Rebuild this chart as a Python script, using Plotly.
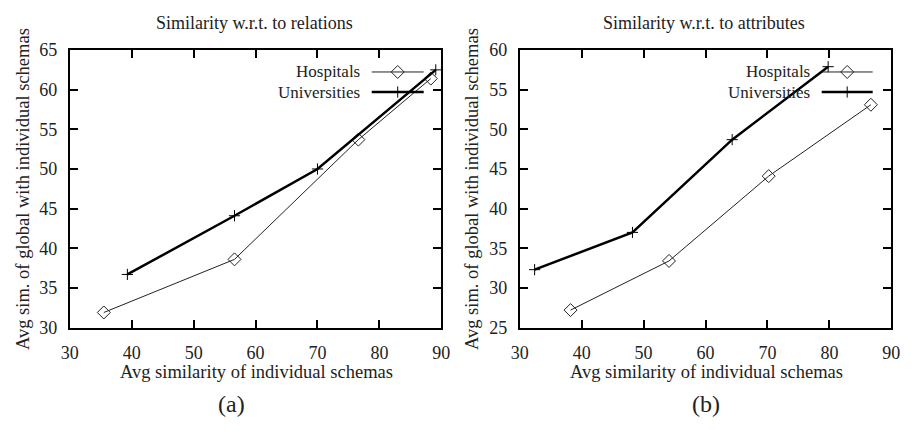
import plotly.graph_objects as go

# ---- data ----
rel_hosp_x = [35.5, 56.6, 76.6, 88.3]
rel_hosp_y = [31.9, 38.6, 53.7, 61.4]
rel_univ_x = [39.3, 56.6, 70.0, 89.1]
rel_univ_y = [36.7, 44.1, 50.0, 62.5]

att_hosp_x = [38.2, 54.1, 70.2, 86.7]
att_hosp_y = [27.2, 33.4, 44.1, 53.1]
att_univ_x = [32.4, 48.2, 64.3, 79.8]
att_univ_y = [32.3, 37.0, 48.7, 57.9]

x_ticks = [30, 40, 50, 60, 70, 80, 90]
rel_y_ticks = [30, 35, 40, 45, 50, 55, 60, 65]
att_y_ticks = [25, 30, 35, 40, 45, 50, 55, 60]

titles = ["Similarity w.r.t. to relations", "Similarity w.r.t. to attributes"]
sub_labels = ["(a)", "(b)"]
series_names = ["Hospitals", "Universities"]
x_title = "Avg similarity of individual schemas"
y_title = "Avg sim. of global with individual schemas"

W, H = 916, 431
FONT = "Liberation Serif"
TXT = "#222222"
HOSP_COLOR = "#222222"
UNIV_COLOR = "#000000"

hosp_line = dict(color=HOSP_COLOR, width=1)
univ_line = dict(color=UNIV_COLOR, width=2.5)
hosp_marker = dict(symbol="diamond-open", size=10, color=HOSP_COLOR, line=dict(width=1, color=HOSP_COLOR))
univ_marker = dict(symbol="cross-thin-open", size=8, color=UNIV_COLOR, line=dict(width=1, color=UNIV_COLOR))

fig = go.Figure()

panels = [
    ("x", "y", rel_hosp_x, rel_hosp_y, rel_univ_x, rel_univ_y),
    ("x2", "y2", att_hosp_x, att_hosp_y, att_univ_x, att_univ_y),
]
for xa, ya, hx, hy, ux, uy in panels:
    fig.add_trace(go.Scatter(x=hx, y=hy, mode="lines+markers", line=hosp_line,
                             marker=hosp_marker, xaxis=xa, yaxis=ya, showlegend=False))
    fig.add_trace(go.Scatter(x=ux, y=uy, mode="lines+markers", line=univ_line,
                             marker=univ_marker, xaxis=xa, yaxis=ya, showlegend=False))

# gnuplot-style key: text right-aligned, sample line to the right (pixel-based helper axis)
key_specs = [  # (text right edge, sample start, sample end, row y)
    (360, 370, 423, [65, 86]),
    (819, 829, 881, [65, 86]),
]
for tx, s0, s1, rows in key_specs:
    for name, ry, ln, mk in zip(series_names, rows, [hosp_line, univ_line], [hosp_marker, univ_marker]):
        fig.add_trace(go.Scatter(x=[s0, s1], y=[ry, ry], mode="lines", line=ln,
                                 xaxis="x3", yaxis="y3", showlegend=False, hoverinfo="skip"))
        fig.add_trace(go.Scatter(x=[(s0 + s1) / 2], y=[ry], mode="markers", marker=mk,
                                 xaxis="x3", yaxis="y3", showlegend=False, hoverinfo="skip"))
        fig.add_annotation(x=tx, y=ry, xref="x3", yref="y3", text=name, showarrow=False,
                           xanchor="right", yanchor="middle", font=dict(family=FONT, size=17, color=TXT))

axis_common = dict(
    showline=True, linecolor="black", linewidth=2, mirror="ticks",
    ticks="inside", ticklen=8, tickwidth=2, tickcolor="black",
    showgrid=False, zeroline=False,
    tickfont=dict(family=FONT, size=18, color=TXT),
)

x_dom = [[62 / W, 441 / W], [521 / W, 900 / W]]
y_dom = [1 - 333 / H, 1 - 42 / H]

fig.update_layout(
    width=W, height=H, margin=dict(l=0, r=0, t=0, b=0),
    paper_bgcolor="white", plot_bgcolor="rgba(0,0,0,0)",
    xaxis=dict(domain=x_dom[0], range=[30, 90], tickvals=x_ticks, anchor="y", ticklabelstandoff=8, **axis_common),
    yaxis=dict(domain=y_dom, range=[30, 65], tickvals=rel_y_ticks, anchor="x", ticklabelstandoff=7, **axis_common),
    xaxis2=dict(domain=x_dom[1], range=[30, 90], tickvals=x_ticks, anchor="y2", ticklabelstandoff=8, **axis_common),
    yaxis2=dict(domain=y_dom, range=[25, 60], tickvals=att_y_ticks, anchor="x2", ticklabelstandoff=7, **axis_common),
    xaxis3=dict(domain=[0, 1], range=[0, W], visible=False, fixedrange=True, anchor="y3"),
    yaxis3=dict(domain=[0, 1], range=[H, 0], visible=False, fixedrange=True, anchor="x3"),
    showlegend=False,
)

# titles / axis titles / sub labels as annotations in pixel coordinates
text_items = [
    (250, 14, titles[0], 18, 0),
    (709, 14, titles[1], 18, 0),
    (252, 380, x_title, 18.5, 0),
    (711, 380, x_title, 18.5, 0),
    (227, 413, sub_labels[0], 24, 0),
    (711, 413, sub_labels[1], 24, 0),
    (15, 188, y_title, 18.5, -90),
    (473, 188, y_title, 18.5, -90),
]
for x, y, t, s, ang in text_items:
    fig.add_annotation(x=x, y=y, xref="x3", yref="y3", text=t, showarrow=False,
                       xanchor="center", yanchor="middle", textangle=ang,
                       font=dict(family=FONT, size=s, color=TXT))

fig.write_html("out.html")
